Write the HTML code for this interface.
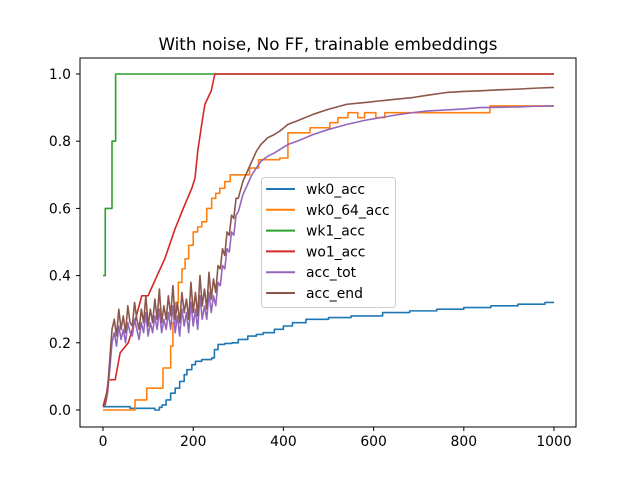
<!DOCTYPE html>
<html><head><meta charset="utf-8"><style>
body{margin:0;background:#fff;}
svg{font-family:"DejaVu Sans","Liberation Sans",sans-serif;}
</style></head><body>
<svg id="chart" width="640" height="480" viewBox="0 0 640 480">
<rect x="0" y="0" width="640" height="480" fill="#fff"/>
<text x="328" y="50" font-size="16.7" text-anchor="middle">With noise, No FF, trainable embeddings</text>
<g id="series"></g>
<rect x="80" y="58" width="496" height="369" fill="none" stroke="#000" stroke-width="1"/>
<g id="axes"></g>
<g>
<rect x="261.5" y="177.5" width="134" height="130" rx="3" fill="#fff" fill-opacity="0.8" stroke="#ccc"/>
<g id="legend"></g>
</g>
</svg>
<script>
const xTicks=[0,200,400,600,800,1000];
const yTicks=[0.0,0.2,0.4,0.6,0.8,1.0];
const seriesNames=["wk0_acc","wk0_64_acc","wk1_acc","wo1_acc","acc_tot","acc_end"];
const colors=["#1f77b4","#ff7f0e","#2ca02c","#d62728","#9467bd","#8c564b"];
const wk0X=[0,60,115,125,131,140,150,160,170,180,186,197,205,219,241,247,255,270,286,300,321,340,355,380,400,420,450,500,550,620,680,740,800,860,920,980,1000];
const wk0Y=[0.01,0.005,0.0,0.008,0.015,0.03,0.05,0.065,0.085,0.105,0.12,0.135,0.145,0.15,0.155,0.18,0.195,0.198,0.20,0.21,0.22,0.225,0.23,0.24,0.25,0.26,0.27,0.275,0.28,0.29,0.295,0.30,0.305,0.31,0.315,0.32,0.32];
const wk064X=[0,64,71,97,120,133,144,150,155,161,167,175,182,190,200,210,219,230,241,250,259,270,282,325,345,392,410,459,503,521,543,565,580,605,625,858,1000];
const wk064Y=[0.0,0.0,0.03,0.065,0.065,0.125,0.125,0.19,0.26,0.32,0.38,0.42,0.45,0.49,0.53,0.545,0.56,0.60,0.63,0.645,0.66,0.68,0.70,0.72,0.745,0.75,0.825,0.84,0.855,0.87,0.885,0.87,0.885,0.87,0.885,0.905,0.905];
const wk1X=[0,5,12,20,28,1000];
const wk1Y=[0.4,0.6,0.6,0.8,1.0,1.0];
const wo1X=[0,8,12,27,38,56,70,86,100,120,137,160,178,197,204,210,220,226,240,248,1000];
const wo1Y=[0.01,0.05,0.09,0.09,0.17,0.2,0.26,0.34,0.34,0.40,0.45,0.54,0.6,0.66,0.69,0.77,0.86,0.91,0.95,1.0,1.0];
const accX=[0,5,10,15,20,25,30,35,40,45,50,55,60,65,70,75,80,85,90,95,100,105,110,115,120,125,130,135,140,145,150,155,160,165,170,175,180,185,190,195,200,205,210,215,220,225,230,235,240,245,250,255,260,265,270,275,280,285,290,295,300,310,320,330,340,350,365,380,392,410,430,466,500,541,580,614,650,687,720,762,800,836,880,920,960,1000];
const accEndY=[0.01,0.02,0.06,0.15,0.24,0.27,0.22,0.3,0.24,0.28,0.23,0.31,0.26,0.25,0.32,0.27,0.24,0.3,0.26,0.34,0.25,0.3,0.26,0.33,0.27,0.36,0.26,0.31,0.27,0.34,0.28,0.37,0.27,0.32,0.26,0.35,0.29,0.33,0.27,0.38,0.29,0.35,0.28,0.4,0.31,0.36,0.3,0.41,0.33,0.39,0.35,0.43,0.42,0.48,0.46,0.53,0.52,0.58,0.57,0.63,0.63,0.68,0.71,0.74,0.77,0.79,0.81,0.82,0.83,0.85,0.86,0.88,0.895,0.91,0.915,0.92,0.925,0.93,0.937,0.945,0.948,0.95,0.953,0.955,0.958,0.96];
const accTotY=[0.01,0.015,0.05,0.12,0.2,0.23,0.19,0.25,0.21,0.24,0.2,0.26,0.23,0.22,0.27,0.24,0.21,0.26,0.23,0.29,0.22,0.26,0.23,0.28,0.24,0.3,0.23,0.27,0.24,0.29,0.24,0.31,0.23,0.28,0.22,0.3,0.25,0.29,0.23,0.32,0.25,0.3,0.24,0.34,0.27,0.31,0.27,0.35,0.29,0.34,0.31,0.38,0.37,0.43,0.42,0.48,0.47,0.53,0.52,0.58,0.59,0.64,0.67,0.7,0.72,0.74,0.755,0.765,0.775,0.79,0.80,0.82,0.835,0.85,0.862,0.87,0.878,0.885,0.89,0.893,0.896,0.9,0.901,0.902,0.904,0.905];
function X(v){return 103+v*0.451;}
function Y(v){return 410-v*336;}
const NS="http://www.w3.org/2000/svg";
const sg=document.getElementById('series');
function stepPath(xs,ys){let d="M"+X(xs[0])+","+Y(ys[0]);for(let i=1;i<xs.length;i++){d+=" L"+X(xs[i])+","+Y(ys[i-1])+" L"+X(xs[i])+","+Y(ys[i]);}return d;}
function linePath(xs,ys){return xs.map((x,i)=>(i?"L":"M")+X(x)+","+Y(ys[i])).join(" ");}
function addLine(d,c,name){const p=document.createElementNS(NS,'path');p.setAttribute('d',d);p.setAttribute('fill','none');p.setAttribute('stroke',c);p.setAttribute('stroke-width','1.6');p.setAttribute('stroke-linejoin','round');


sg.appendChild(p);}
addLine(stepPath(wk0X,wk0Y),colors[0],'line-wk0-acc');
addLine(stepPath(wk064X,wk064Y),colors[1],'line-wk0-64-acc');
addLine(stepPath(wk1X,wk1Y),colors[2],'line-wk1-acc');
addLine(linePath(wo1X,wo1Y),colors[3],'line-wo1-acc');
addLine(linePath(accX,accTotY),colors[4],'line-acc-tot');
addLine(linePath(accX,accEndY),colors[5],'line-acc-end');
const ax=document.getElementById('axes');
function mk(tag,attrs,text){const e=document.createElementNS(NS,tag);for(const k in attrs)e.setAttribute(k,attrs[k]);if(text!==undefined)e.textContent=text;ax.appendChild(e);return e;}
xTicks.forEach(v=>{const k=mk('line',{x1:X(v),x2:X(v),y1:427,y2:431,stroke:'#000'});


const t=mk('text',{x:X(v),y:446,'font-size':13.9,'text-anchor':'middle'},String(v));

});
yTicks.forEach(v=>{const k=mk('line',{x1:76,x2:80,y1:Y(v),y2:Y(v),stroke:'#000'});


const t=mk('text',{x:71,y:Y(v)+5,'font-size':13.9,'text-anchor':'end'},v.toFixed(1));

});
const lg=document.getElementById('legend');
seriesNames.forEach((n,i)=>{const y=189+i*20.8;
const l=document.createElementNS(NS,'line');l.setAttribute('x1',266);l.setAttribute('x2',295);l.setAttribute('y1',y);l.setAttribute('y2',y);l.setAttribute('stroke',colors[i]);l.setAttribute('stroke-width','2');


lg.appendChild(l);
const t=document.createElementNS(NS,'text');t.setAttribute('x',306);t.setAttribute('y',y+5);t.setAttribute('font-size','13.9');t.textContent=n;


lg.appendChild(t);});
</script>
</body></html>
